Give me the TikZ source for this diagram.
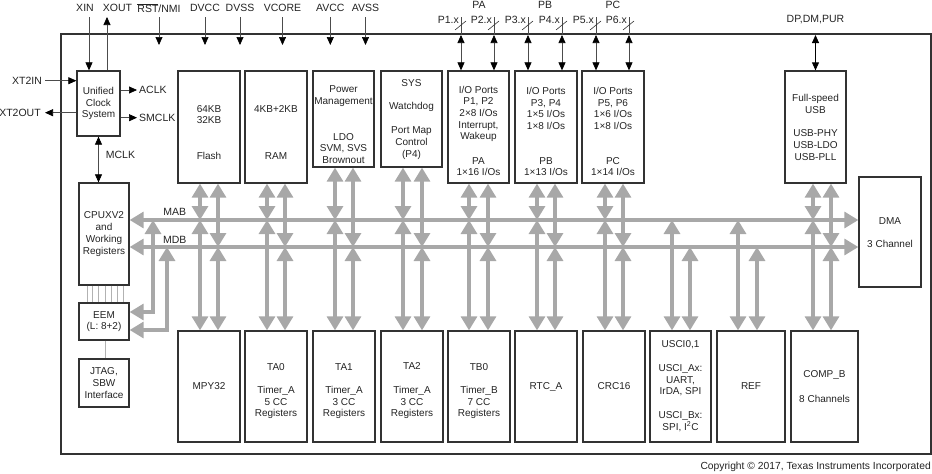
\documentclass[tikz,border=0pt]{standalone}
\usepackage{fontspec}
\setmainfont{Liberation Sans}
\usetikzlibrary{arrows.meta}
\definecolor{gline}{RGB}{168,168,168}
\definecolor{bord}{RGB}{50,50,50}
\definecolor{txt}{RGB}{35,35,35}
\tikzset{
  GT/.tip={Triangle[width=16pt,length=14pt]},
  PT/.tip={Triangle[width=7pt,length=8pt,color=black]},
}
\begin{document}
\begin{tikzpicture}[x=1pt,y=-1pt,
  blk/.style={draw=bord, line width=1.3pt, inner sep=0pt},
  tx/.style={text=txt, align=center, inner sep=0pt, font=\fontsize{10}{11.7}\selectfont},
  lbl/.style={text=txt, inner sep=0pt, font=\fontsize{10.5}{12}\selectfont},
  gar/.style={draw=gline, line width=3.2pt, GT-GT},
  gone/.style={draw=gline, line width=3.2pt},
  pinl/.style={draw=black!70, line width=0.7pt},
  slashl/.style={draw=black!80, line width=0.6pt},
  thinl/.style={draw=black!30, line width=0.6pt},
]
\useasboundingbox (0,0) rectangle (932,474);
% frame
\draw[blk] (61,34) rectangle (931,454);
\coordinate (mab) at (0,220);
\coordinate (mdb) at (0,247);

% boxes
\node[blk, minimum width=43pt, minimum height=65pt, tx] (clock) at (98.5,103.5) {Unified\\Clock\\System};
\node[blk, minimum width=50pt, minimum height=102pt, tx] (cpu) at (104,234) {CPUXV2\\and\\Working\\Registers};
\node[blk, minimum width=50pt, minimum height=37pt, tx] (eem) at (104,321.5) {EEM\\(L: 8+2)};
\node[blk, minimum width=50pt, minimum height=48pt, tx] (jtag) at (104,383) {JTAG,\\SBW\\Interface};

\node[blk, minimum width=62pt, minimum height=112pt] (flash) at (209,127) {};
\node[blk, minimum width=62pt, minimum height=112pt] (ram) at (276,127) {};
\node[blk, minimum width=61pt, minimum height=96pt] (pwr) at (343.5,119) {};
\node[blk, minimum width=61pt, minimum height=96pt] (sys) at (411.5,119) {};
\node[blk, minimum width=61pt, minimum height=112pt] (pa) at (478.5,127) {};
\node[blk, minimum width=62pt, minimum height=112pt] (pb) at (546,127) {};
\node[blk, minimum width=62pt, minimum height=112pt] (pc) at (613,127) {};
\node[blk, minimum width=61pt, minimum height=112pt] (usb) at (815.5,127) {};
\node[blk, minimum width=62pt, minimum height=110pt] (dma) at (890,232) {};

\node[blk, minimum width=62pt, minimum height=111pt, tx] (mpy) at (209,386.5) {MPY32};
\node[blk, minimum width=62pt, minimum height=111pt] (ta0) at (276,386.5) {};
\node[blk, minimum width=62pt, minimum height=111pt] (ta1) at (344,386.5) {};
\node[blk, minimum width=62pt, minimum height=111pt] (ta2) at (412,386.5) {};
\node[blk, minimum width=62pt, minimum height=111pt] (tb0) at (479,386.5) {};
\node[blk, minimum width=62pt, minimum height=111pt, tx] (rtc) at (546,386.5) {RTC\_A};
\node[blk, minimum width=62pt, minimum height=111pt, tx] (crc) at (614,386.5) {CRC16};
\node[blk, minimum width=61pt, minimum height=111pt] (usci) at (680.5,386.5) {};
\node[blk, minimum width=68pt, minimum height=111pt, tx] (ref) at (751,386.5) {REF};
\node[blk, minimum width=67pt, minimum height=111pt] (comp) at (824.5,386.5) {};

% texts inside boxes
\node[tx] (flashA) at (209,114.5) {64KB\\32KB};
\node[tx] (flashB) at (209,156) {Flash};
\node[tx] (ramA) at (276,109) {4KB+2KB};
\node[tx] (ramB) at (276,156) {RAM};
\node[tx] (pwrA) at (343.5,96) {Power\\Management};
\node[tx] (pwrB) at (343.5,148.5) {LDO\\SVM, SVS\\Brownout};
\node[tx] (sysA) at (411.5,83.5) {SYS};
\node[tx] (sysB) at (411.5,107) {Watchdog};
\node[tx] (sysC) at (411.5,143) {Port Map\\Control\\(P4)};
\node[tx] (paA) at (478.5,114) {I/O Ports\\P1, P2\\2×8 I/Os\\Interrupt,\\Wakeup};
\node[tx] (paB) at (478.5,166.7) {PA\\1×16 I/Os};
\node[tx] (pbA) at (546,108.3) {I/O Ports\\P3, P4\\1×5 I/Os\\1×8 I/Os};
\node[tx] (pbB) at (546,166.7) {PB\\1×13 I/Os};
\node[tx] (pcA) at (613,108.3) {I/O Ports\\P5, P6\\1×6 I/Os\\1×8 I/Os};
\node[tx] (pcB) at (613,166.7) {PC\\1×14 I/Os};
\node[tx] (usbA) at (815.5,103.7) {Full-speed\\USB};
\node[tx] (usbB) at (815.5,145) {USB-PHY\\USB-LDO\\USB-PLL};
\node[tx] (dmaA) at (890,220.7) {DMA};
\node[tx] (dmaB) at (890,244) {3 Channel};
\node[tx] (ta0A) at (276,367) {TA0};
\node[tx] (ta0B) at (276,402.5) {Timer\_A\\5 CC\\Registers};
\node[tx] (ta1A) at (344,367) {TA1};
\node[tx] (ta1B) at (344,402.5) {Timer\_A\\3 CC\\Registers};
\node[tx] (ta2A) at (412,366) {TA2};
\node[tx] (ta2B) at (412,402.5) {Timer\_A\\3 CC\\Registers};
\node[tx] (tb0A) at (479,367) {TB0};
\node[tx] (tb0B) at (479,402.5) {Timer\_B\\7 CC\\Registers};
\node[tx] (usciA) at (680.5,345) {USCI0,1};
\node[tx] (usciB) at (680.5,380.3) {USCI\_Ax:\\UART,\\IrDA, SPI};
\node[tx] (usciC) at (680.5,421.5) {USCI\_Bx:\\SPI, I\textsuperscript{2}C};
\node[tx] (compA) at (824.5,375) {COMP\_B};
\node[tx] (compB) at (824.5,399.3) {8 Channels};

% buses
\draw[gar] (cpu.east |- mab) -- (dma.west |- mab);
\draw[gar] (cpu.east |- mdb) -- (dma.west |- mdb);
\node[lbl] (mabl) at (174.7,212.3) {MAB};
\node[lbl] (mdbl) at (174.7,240.3) {MDB};

\foreach \t/\b/\a/\c in {flash/mpy/200/218, ram/ta0/267/285, pwr/ta1/335/353, sys/ta2/403/422, pa/tb0/469/488, pb/rtc/537/555, pc/crc/605/623, usb/comp/813/831}{
  \draw[gar] (\a,0 |- \t.south) -- (\a,0 |- mab);
  \draw[gar] (\a,0 |- mab) -- (\a,0 |- \b.north);
  \draw[gar] (\c,0 |- \t.south) -- (\c,0 |- mdb);
  \draw[gar] (\c,0 |- mdb) -- (\c,0 |- \b.north);
}
\foreach \b/\a/\c in {usci/672/690, ref/738/757}{
  \draw[gar] (\a,0 |- mab) -- (\a,0 |- \b.north);
  \draw[gar] (\c,0 |- mdb) -- (\c,0 |- \b.north);
}
% EEM links
\draw[gar] (153,0 |- mab) |- (eem.east |- 0,312);
\draw[gar] (167,0 |- mdb) |- (eem.east |- 0,330);
\foreach \x in {87,92,98,105,111,117,123}{
  \draw[thinl] (\x,0 |- cpu.south) -- (\x,0 |- eem.north);
}
\draw[thinl] (105,0 |- eem.south) -- (105,0 |- jtag.north);

% clock signals
\coordinate (xinp) at (89,17);
\coordinate (xoutp) at (107,17);
\draw[pinl, -PT] (xinp) -- (xinp |- clock.north);
\draw[pinl, -PT] (xoutp |- clock.north) -- (xoutp);
\node[lbl] (xinl) at (85,8) {XIN};
\node[lbl] (xoutl) at (117.5,8) {XOUT};
\coordinate (xt2inp) at (45,80.7);
\coordinate (xt2outp) at (45,112.7);
\draw[pinl, -PT] (xt2inp) -- (xt2inp -| clock.west);
\draw[pinl, -PT] (xt2outp -| clock.west) -- (xt2outp);
\node[lbl] (xt2inl) at (27,80.7) {XT2IN};
\node[lbl] (xt2outl) at (20,112.7) {XT2OUT};
\coordinate (aclkp) at (137,90);
\coordinate (smclkp) at (137,117.7);
\draw[pinl, -PT] (aclkp -| clock.east) -- (aclkp);
\draw[pinl, -PT] (smclkp -| clock.east) -- (smclkp);
\node[lbl, anchor=west] (aclkl) at (139,90) {ACLK};
\node[lbl, anchor=west] (smclkl) at (139,117.7) {SMCLK};
\draw[pinl, PT-PT] (clock.south) -- (clock.south |- cpu.north);
\node[lbl] (mclkl) at (120.5,155) {MCLK};

% supply pins
\foreach \x/\l [count=\i] in {159/{$\overline{\mbox{RST}}$/NMI}, 205/DVCC, 240/DVSS, 282.5/VCORE, 330.3/AVCC, 365.5/AVSS}{
  \coordinate (sp\i) at (\x,17);
  \draw[pinl, -PT] (sp\i) -- (\x,45);
  \node[lbl] (spl\i) at (\x,8) {\l};
}

% port pins
\foreach \x/\l/\bx [count=\i] in {461/P1.x/pa, 494/P2.x/pa, 528/P3.x/pb, 562/P4.x/pb, 596/P5.x/pc, 629/P6.x/pc}{
  \coordinate (pp\i) at (\x,35);
  \draw[pinl] (\x,17) -- (pp\i);
  \draw[pinl, PT-PT] (pp\i) -- (pp\i |- \bx.north);
  \draw[slashl] ({\x-6},30) -- ({\x+5},21);
  \node[lbl, anchor=east] (ppl\i) at ({\x-2},20) {\l};
}
\node[lbl] (pal) at (479,5) {PA};
\node[lbl] (pbl) at (545,5) {PB};
\node[lbl] (pcl) at (613,5) {PC};

% USB pins
\coordinate (usbp) at (815.5,35);
\draw[draw=black, line width=0.8pt, PT-PT] (usbp) -- (usb.north);
\node[lbl] (usbl) at (815.5,20) {DP,DM,PUR};

\node[lbl, anchor=east, font=\fontsize{10.3}{12}\selectfont] (copy) at (931,467) {Copyright © 2017, Texas Instruments Incorporated};
\end{tikzpicture}
\end{document}
